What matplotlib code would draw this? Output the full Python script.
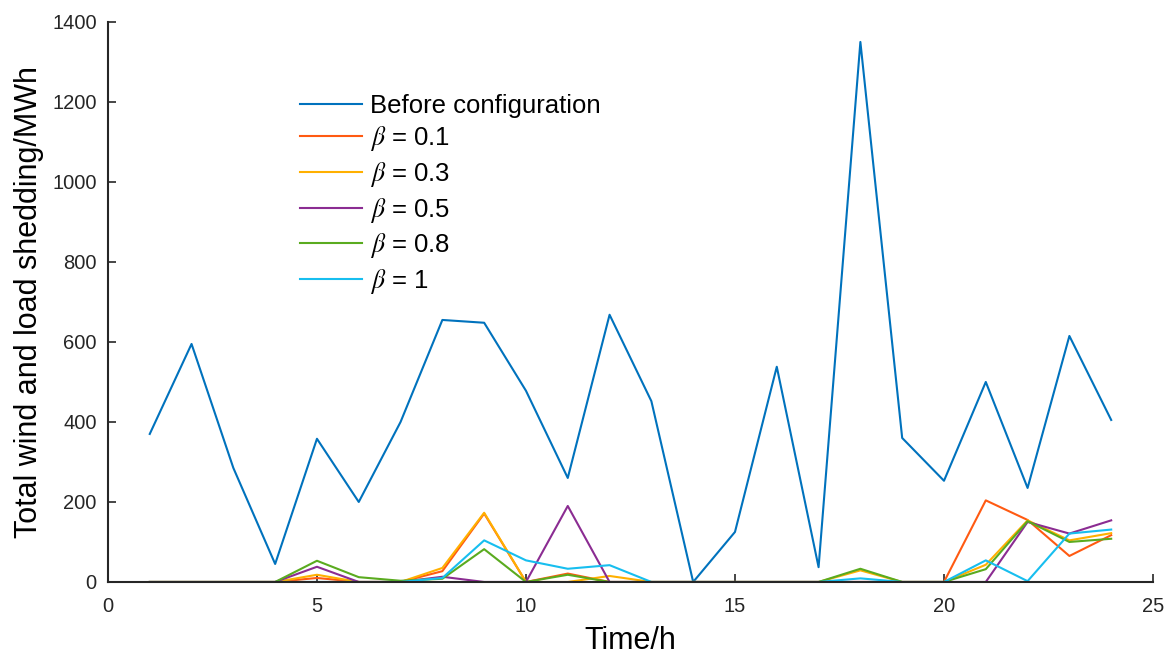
import matplotlib
matplotlib.use('Agg')
import matplotlib.pyplot as plt

hours = list(range(1, 25))

before = [370, 595, 285, 45, 358, 200, 400, 655, 648, 478, 260, 668,
          452, 0, 125, 538, 37, 1350, 360, 253, 500, 235, 615, 405]
beta_01 = [0, 0, 0, 0, 10, 0, 0, 27, 171, 0, 21, 0,
           0, 0, 0, 0, 0, 0, 0, 0, 204, 155, 65, 117]
beta_03 = [0, 0, 0, 0, 18, 0, 0, 35, 173, 0, 0, 15,
           0, 0, 0, 0, 0, 29, 0, 0, 43, 154, 104, 122]
beta_05 = [0, 0, 0, 0, 38, 0, 0, 13, 0, 0, 190, 0,
           0, 0, 0, 0, 0, 0, 0, 0, 0, 150, 121, 154]
beta_08 = [0, 0, 0, 0, 53, 12, 3, 8, 82, 0, 18, 0,
           0, 0, 0, 0, 0, 33, 0, 0, 32, 152, 100, 108]
beta_1 = [0, 0, 0, 0, 0, 0, 0, 10, 104, 54, 33, 42,
          0, 0, 0, 0, 0, 9, 0, 0, 54, 2, 121, 131]

series = [before, beta_01, beta_03, beta_05, beta_08, beta_1]
labels = ['Before configuration', r'$\beta$ = 0.1', r'$\beta$ = 0.3',
          r'$\beta$ = 0.5', r'$\beta$ = 0.8', r'$\beta$ = 1']
colors = ['#0072BD', '#FF5A12', '#FFB000', '#8B2C92', '#5AAB1F', '#17BEEF']

plt.rcParams['font.family'] = ['Liberation Sans', 'DejaVu Sans']
plt.rcParams['mathtext.fontset'] = 'stix'

fig = plt.figure(figsize=(11.67, 6.55), dpi=100)
ax = fig.add_axes([0.0925, 0.1115, 0.8955, 0.855])

for ys, lab, c in zip(series, labels, colors):
    ax.plot(hours, ys, color=c, lw=1.5, label=lab)

ax.set_xlim(0, 25)
ax.set_ylim(0, 1400)
ax.set_xticks(range(0, 26, 5))
ax.set_yticks(range(0, 1401, 200))
ax.tick_params(direction='in', length=6, width=1.2, labelsize=14.5, colors='#262626')
ax.tick_params(axis='x', pad=11)
ax.tick_params(axis='y', pad=8)
ax.spines['top'].set_visible(False)
ax.spines['right'].set_visible(False)
for s in ('left', 'bottom'):
    ax.spines[s].set_linewidth(1.5)
    ax.spines[s].set_color('#262626')

ax.set_xlabel('Time/h', fontsize=22, labelpad=7)
ax.set_ylabel('Total wind and load shedding/MWh', fontsize=22, labelpad=6)

ax.legend(loc='upper left', bbox_to_anchor=(0.184, 0.872), frameon=False,
          fontsize=18.5, handlelength=2.4, handletextpad=0.32,
          labelspacing=0.26, borderaxespad=0, borderpad=0)

fig.savefig('out.png', dpi=100)
